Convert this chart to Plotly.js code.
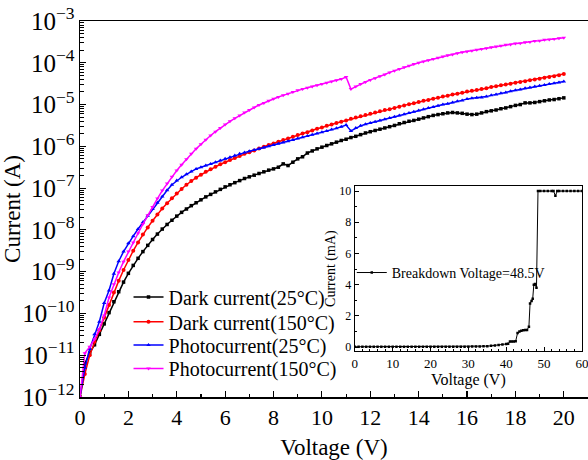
<!DOCTYPE html>
<html>
<head>
<meta charset="utf-8">
<script src="https://cdn.plot.ly/plotly-3.0.1.min.js"></script>
<style>html,body{margin:0;padding:0;background:#fff;}#chart{width:588px;height:460px;}</style>
</head>
<body>
<div id="chart"></div>
<script>
// Main chart: voltage (V)
const voltage = [
0,0.2,0.4,0.6,0.8,
1,1.2,1.4,1.6,1.8,
2,2.2,2.4,2.6,2.8,
3,3.2,3.4,3.6,3.8,
4,4.2,4.4,4.6,4.8,
5,5.2,5.4,5.6,5.8,
6,6.2,6.4,6.6,6.8,
7,7.2,7.4,7.6,7.8,
8,8.2,8.4,8.6,8.8,
9,9.2,9.4,9.6,9.8,
10,10.2,10.4,10.6,10.8,
11,11.2,11.4,11.6,11.8,
12,12.2,12.4,12.6,12.8,
13,13.2,13.4,13.6,13.8,
14,14.2,14.4,14.6,14.8,
15,15.2,15.4,15.6,15.8,
16,16.2,16.4,16.6,16.8,
17,17.2,17.4,17.6,17.8,
18,18.2,18.4,18.6,18.8,
19,19.2,19.4,19.6,19.8,
20];

// Currents, stored as log10 of the current in A
const darkCurrent25Log = [
-12,-11.2,-10.95,-10.75,-10.5,
-10.25,-9.98,-9.72,-9.48,-9.25,
-9.04,-8.85,-8.68,-8.52,-8.37,
-8.23,-8.1,-7.98,-7.87,-7.77,
-7.67,-7.58,-7.5,-7.42,-7.35,
-7.28,-7.21,-7.15,-7.09,-7.03,
-6.97,-6.92,-6.87,-6.82,-6.77,
-6.73,-6.69,-6.65,-6.61,-6.57,
-6.54,-6.5,-6.42,-6.46,-6.38,
-6.3,-6.25,-6.16,-6.11,-6.06,
-6.02,-5.98,-5.94,-5.9,-5.86,
-5.83,-5.79,-5.76,-5.72,-5.68,
-5.65,-5.62,-5.59,-5.56,-5.53,
-5.5,-5.46,-5.43,-5.4,-5.38,
-5.35,-5.32,-5.29,-5.26,-5.24,
-5.22,-5.2,-5.19,-5.2,-5.21,
-5.23,-5.24,-5.23,-5.2,-5.17,
-5.15,-5.13,-5.1,-5.08,-5.05,
-5.02,-5,-4.96,-4.96,-4.95,
-4.93,-4.91,-4.89,-4.88,-4.86,
-4.84];

const darkCurrent150Log = [
-12,-11.45,-11.0,-10.68,-10.4,
-10.1,-9.8,-9.5,-9.22,-8.96,
-8.72,-8.5,-8.3,-8.11,-7.94,
-7.78,-7.63,-7.49,-7.36,-7.24,
-7.13,-7.02,-6.92,-6.83,-6.75,
-6.68,-6.61,-6.55,-6.49,-6.43,
-6.38,-6.33,-6.28,-6.23,-6.18,
-6.14,-6.1,-6.05,-6.01,-5.97,
-5.93,-5.89,-5.85,-5.81,-5.77,
-5.73,-5.69,-5.66,-5.62,-5.58,
-5.55,-5.51,-5.48,-5.44,-5.41,
-5.38,-5.34,-5.31,-5.28,-5.25,
-5.22,-5.19,-5.16,-5.13,-5.11,
-5.08,-5.05,-5.02,-4.99,-4.97,
-4.94,-4.91,-4.89,-4.86,-4.84,
-4.81,-4.79,-4.76,-4.74,-4.72,
-4.69,-4.67,-4.65,-4.63,-4.61,
-4.58,-4.56,-4.54,-4.52,-4.5,
-4.48,-4.46,-4.44,-4.42,-4.4,
-4.38,-4.36,-4.34,-4.32,-4.3,
-4.27];

const photoCurrent25Log = [
-12,-11.3,-10.85,-10.5,-10.2,
-9.75,-9.45,-9.05,-8.75,-8.52,
-8.32,-8.15,-7.98,-7.82,-7.66,
-7.5,-7.35,-7.2,-7.05,-6.92,
-6.82,-6.74,-6.67,-6.6,-6.54,
-6.5,-6.46,-6.42,-6.38,-6.34,
-6.3,-6.26,-6.22,-6.18,-6.15,
-6.12,-6.09,-6.06,-6.03,-6.0,
-5.97,-5.94,-5.91,-5.88,-5.85,
-5.81,-5.78,-5.75,-5.72,-5.69,
-5.66,-5.63,-5.6,-5.57,-5.53,
-5.49,-5.63,-5.56,-5.51,-5.47,
-5.44,-5.41,-5.38,-5.35,-5.32,
-5.29,-5.26,-5.23,-5.2,-5.17,
-5.14,-5.11,-5.08,-5.06,-5.03,
-5.0,-4.98,-4.95,-4.92,-4.9,
-4.87,-4.85,-4.84,-4.83,-4.81,
-4.78,-4.76,-4.73,-4.71,-4.68,
-4.66,-4.64,-4.61,-4.59,-4.57,
-4.55,-4.53,-4.51,-4.49,-4.47,
-4.45];

const photoCurrent150Log = [
-12,-10.95,-10.8,-10.62,-10.38,
-10.05,-9.62,-9.3,-9.02,-8.76,
-8.52,-8.3,-8.08,-7.86,-7.65,
-7.45,-7.25,-7.06,-6.89,-6.73,
-6.58,-6.44,-6.31,-6.18,-6.06,
-5.95,-5.84,-5.74,-5.65,-5.56,
-5.48,-5.4,-5.33,-5.26,-5.19,
-5.13,-5.07,-5.01,-4.96,-4.91,
-4.86,-4.82,-4.78,-4.74,-4.7,
-4.66,-4.63,-4.6,-4.57,-4.54,
-4.51,-4.48,-4.45,-4.42,-4.39,
-4.34,-4.63,-4.57,-4.51,-4.46,
-4.41,-4.37,-4.32,-4.28,-4.23,
-4.19,-4.15,-4.11,-4.07,-4.03,
-4.0,-3.97,-3.94,-3.91,-3.88,
-3.85,-3.82,-3.8,-3.77,-3.75,
-3.73,-3.71,-3.69,-3.67,-3.65,
-3.63,-3.61,-3.59,-3.57,-3.56,
-3.54,-3.53,-3.51,-3.5,-3.48,
-3.47,-3.45,-3.44,-3.43,-3.41,
-3.4];

const seriesNames = ['Dark current(25\u00B0C)','Dark current(150\u00B0C)','Photocurrent(25\u00B0C)','Photocurrent(150\u00B0C)'];

// Inset: breakdown measurement (current in mA)
const insetVoltage = [0,1,2,3,4,5,6,7,8,9,10,11,12,13,14,15,16,17,18,19,20,21,22,23,24,25,26,27,28,29,30,31,32,33,34,35,36,37,38,39,40,40.5,41,41.5,42,42.5,43,43.5,44,44.5,45,45.5,46,46.3,46.7,47,47.3,47.6,48,48.4,49,50,51,52,52.5,53,53.5,54,55,56,57,58,59,60];
const insetCurrent = [0.02,0.02,0.02,0.02,0.02,0.02,0.02,0.02,0.02,0.02,0.02,0.02,0.02,0.02,0.02,0.02,0.02,0.02,0.02,0.02,0.02,0.02,0.02,0.02,0.02,0.02,0.02,0.02,0.02,0.02,0.02,0.03,0.03,0.04,0.05,0.06,0.08,0.1,0.13,0.17,0.2,0.22,0.35,0.35,0.36,0.38,0.9,1.0,1.05,1.08,1.1,1.1,1.3,2.8,2.95,3.1,4.0,4.05,3.8,10.0,10.0,10.0,10.0,10.0,10.0,9.7,10.0,10.0,10.0,10.0,10.0,10.0,10.0,10.0];
const insetName = 'Breakdown Voltage=48.5V';

const toAmps = arr => arr.map(v => Math.pow(10, v));

const FONT = 'Liberation Serif, Times New Roman, serif';
const styles = [
  {color:'#000000', symbol:'square', size:3.5},
  {color:'#ff0000', symbol:'circle', size:4},
  {color:'#0000ff', symbol:'triangle-up', size:4},
  {color:'#ff00ff', symbol:'triangle-down', size:4}
];
const logs = [darkCurrent25Log, darkCurrent150Log, photoCurrent25Log, photoCurrent150Log];
const legendIds = ['legend', 'legend3', 'legend4', 'legend5'];

const traces = logs.map((arr, i) => ({
  x: voltage, y: toAmps(arr), name: seriesNames[i],
  type: 'scatter', mode: 'lines+markers', xaxis: 'x', yaxis: 'y', legend: legendIds[i],
  line: {color: styles[i].color, width: 1.5},
  marker: {color: styles[i].color, symbol: styles[i].symbol, size: styles[i].size}
}));

traces.push({
  x: insetVoltage, y: insetCurrent, name: insetName,
  type: 'scatter', mode: 'lines+markers', xaxis: 'x2', yaxis: 'y2', legend: 'legend2',
  line: {color: '#000000', width: 1},
  marker: {color: '#000000', symbol: 'square', size: 2.5}
});

const axBase = {
  showline: true, linecolor: '#000', linewidth: 1.5, mirror: true,
  showgrid: false, zeroline: false, ticks: 'inside', tickcolor: '#000'
};

const legendBase = {
  xanchor: 'left', yanchor: 'middle',
  bgcolor: 'rgba(0,0,0,0)', borderwidth: 0,
  font: {size: 20, family: FONT, color: '#000'}
};
const legendX = 0.0955;
const legendRowsY = [0.266, 0.200, 0.138, 0.076];

const layout = {
  width: 588, height: 460,
  margin: {l: 80, r: 0, t: 21, b: 63},
  paper_bgcolor: '#fff', plot_bgcolor: 'rgba(0,0,0,0)',
  font: {family: FONT, color: '#000', size: 20},
  showlegend: true,
  xaxis: Object.assign({}, axBase, {
    domain: [0, 1], anchor: 'y', range: [0, 21], tick0: 0, dtick: 2,
    ticklen: 6, tickwidth: 1.2,
    minor: {ticks: 'inside', dtick: 1, ticklen: 3.5, tickwidth: 1.2, tickcolor: '#000', showgrid: false},
    tickfont: {size: 22, family: FONT},
    title: {text: 'Voltage (V)', font: {size: 23, family: FONT}, standoff: 12}
  }),
  yaxis: Object.assign({}, axBase, {
    domain: [0, 1], anchor: 'x', type: 'log', range: [-12, -3], dtick: 1,
    exponentformat: 'power', ticklen: 6, tickwidth: 1.2,
    minor: {ticks: 'inside', dtick: 'D1', ticklen: 3.5, tickwidth: 1, tickcolor: '#000', showgrid: false},
    tickfont: {size: 20, family: FONT},
    title: {text: 'Current (A)', font: {size: 23, family: FONT}, standoff: 2}
  }),
  xaxis2: Object.assign({}, axBase, {
    domain: [0.541, 0.988], anchor: 'y2', range: [0, 60], tick0: 0, dtick: 10,
    linewidth: 1.2, ticklen: 4, tickwidth: 1, ticklabeloverflow: 'allow',
    minor: {ticks: 'inside', dtick: 2, ticklen: 2.5, tickwidth: 1, tickcolor: '#000', showgrid: false},
    tickfont: {size: 13, family: FONT},
    title: {text: 'Voltage (V)', font: {size: 16, family: FONT}, standoff: 2}
  }),
  yaxis2: Object.assign({}, axBase, {
    domain: [0.122, 0.561], anchor: 'x2', range: [-0.26, 10.32], tick0: 0, dtick: 2,
    linewidth: 1.2, ticklen: 4, tickwidth: 1,
    minor: {ticks: 'inside', dtick: 1, ticklen: 2.5, tickwidth: 1, tickcolor: '#000', showgrid: false},
    tickfont: {size: 12, family: FONT},
    title: {text: 'Current (mA)', font: {size: 14, family: FONT}, standoff: 0}
  }),
  legend: Object.assign({}, legendBase, {x: legendX, y: legendRowsY[0]}),
  legend3: Object.assign({}, legendBase, {x: legendX, y: legendRowsY[1]}),
  legend4: Object.assign({}, legendBase, {x: legendX, y: legendRowsY[2]}),
  legend5: Object.assign({}, legendBase, {x: legendX, y: legendRowsY[3]}),
  legend2: Object.assign({}, legendBase, {
    x: 0.535, y: 0.33, font: {size: 14, family: FONT, color: '#000'}
  })
};

Plotly.newPlot('chart', traces, layout, {displayModeBar: false, staticPlot: true});
</script>
</body>
</html>
